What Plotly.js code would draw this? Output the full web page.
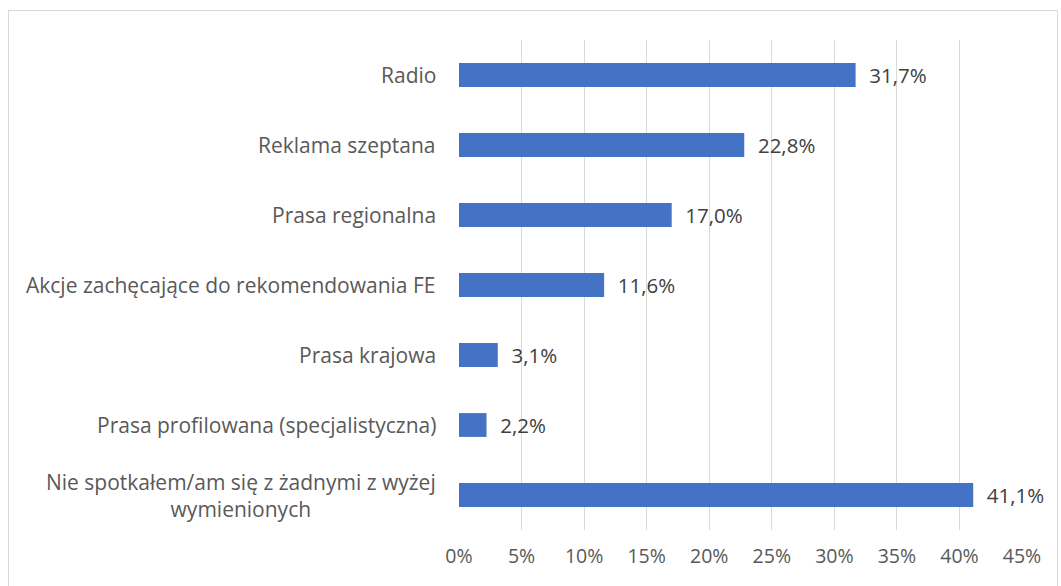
<!DOCTYPE html>
<html>
<head>
<meta charset="utf-8">
<script src="https://cdn.plot.ly/plotly-3.0.1.min.js"></script>
<style>
html,body{margin:0;padding:0;background:#fff;}
#wrap{position:relative;width:1061px;height:586px;}
#chart{width:1061px;height:586px;}
#frame{position:absolute;left:8px;top:10px;width:1050px;height:590px;border:1px solid #d9d9d9;box-sizing:border-box;pointer-events:none;}
</style>
</head>
<body>
<div id="wrap"><div id="chart"></div><div id="frame"></div></div>
<script>
const categories = [
  "Radio",
  "Reklama szeptana",
  "Prasa regionalna",
  "Akcje zachęcające do rekomendowania FE",
  "Prasa krajowa",
  "Prasa profilowana (specjalistyczna)",
  "Nie spotkałem/am się z żadnymi z wyżej<br>wymienionych"
];
const values = [31.7, 22.8, 17.0, 11.6, 3.1, 2.2, 41.1];
const tickVals = [0, 5, 10, 15, 20, 25, 30, 35, 40, 45];

const FONT = "'Open Sans', sans-serif";

const trace = {
  type: 'bar',
  orientation: 'h',
  x: values,
  y: categories,
  marker: {color: '#4472C4'},
  width: 0.34,
  texttemplate: '  %{x:.1f}%',
  textposition: 'outside',
  constraintext: 'none',
  cliponaxis: false,
  textfont: {family: FONT, size: 20.5, color: '#404040'},
  hoverinfo: 'none'
};

const annotations = categories.map(c => ({
  xref: 'paper', yref: 'y', x: 0, y: c,
  xanchor: 'right', yanchor: 'middle', xshift: -21,
  text: c, align: 'center', showarrow: false,
  font: {family: FONT, size: 21, color: '#595959'}
}));

const layout = {
  width: 1061, height: 586,
  margin: {l: 459, r: 39, t: 40, b: 56},
  paper_bgcolor: '#ffffff', plot_bgcolor: '#ffffff',
  separators: ',.',
  showlegend: false,
  font: {family: FONT, size: 18, color: '#595959'},
  xaxis: {
    range: [0, 45], tickvals: tickVals, ticktext: tickVals.map(v => v + '%'),
    showgrid: true, gridcolor: '#d9d9d9', gridwidth: 1,
    zeroline: false, showline: false,
    ticks: 'outside', ticklen: 9, tickcolor: 'rgba(0,0,0,0)',
    tickfont: {family: FONT, size: 19.5, color: '#595959'},
    fixedrange: true
  },
  yaxis: {
    type: 'category', categoryorder: 'array', categoryarray: categories,
    autorange: 'reversed', showticklabels: false, showgrid: false,
    zeroline: false, showline: false, ticks: '', fixedrange: true
  },
  annotations: annotations
};

Plotly.newPlot('chart', [trace], layout, {displayModeBar: false, staticPlot: true});
</script>
</body>
</html>
